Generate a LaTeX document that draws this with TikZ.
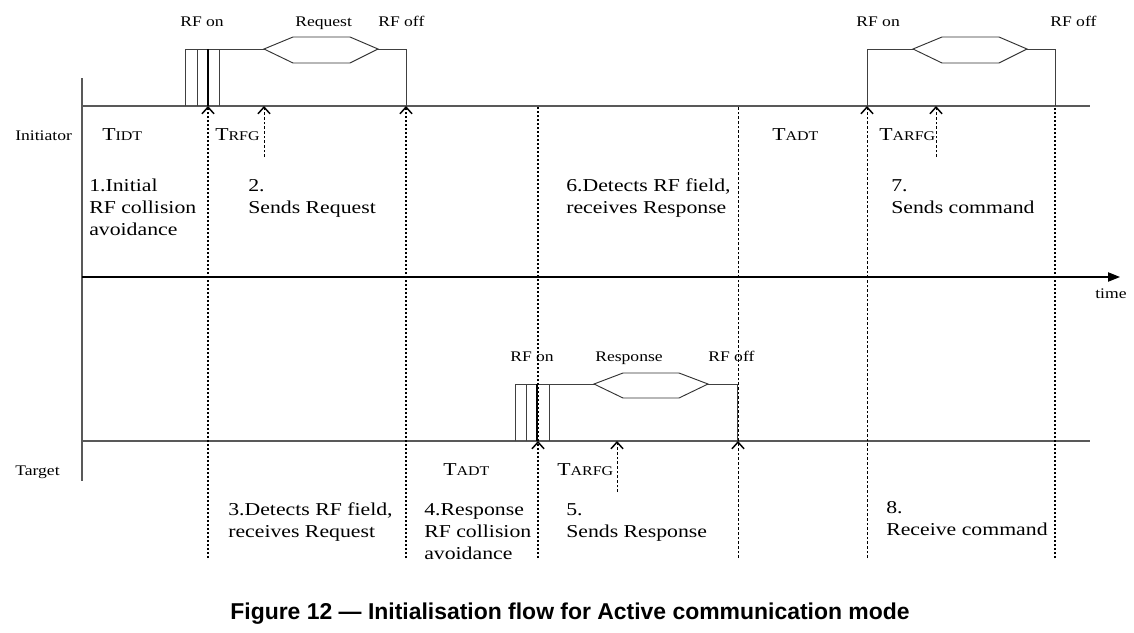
\documentclass[tikz,border=0pt]{standalone}
\usepackage{fontspec}
\setmainfont{Liberation Serif}
\newfontfamily\sr[FakeStretch=1.2]{Liberation Serif}
\newfontfamily\capfont{Liberation Sans}
\usetikzlibrary{arrows.meta}
\newcommand{\smalltxt}{\sr\fontsize{11}{13}\selectfont}
\newcommand{\bigtxt}{\sr\fontsize{13.6}{16.5}\selectfont}
\newcommand{\Tlab}[1]{{\sr\fontsize{13.6}{16}\selectfont T}{\sr\fontsize{10}{12}\selectfont #1}}
\tikzset{
  base/.style={draw=black!65, line width=0.9pt},
  sig/.style={draw=black!75, line width=0.7pt},
  sigthick/.style={draw=black, line width=1.2pt},
  hexa/.style={draw=black!80, line width=0.7pt, fill=white},
  tip/.style={-{Straight Barb[length=5pt,width=9pt,line width=1.1pt]}},
  thickdot/.style={line width=1.6pt, dash pattern=on 1.5pt off 1.5pt},
  thindot/.style={line width=0.75pt, dash pattern=on 2pt off 1.5pt},
  sl/.style={anchor=base west, inner sep=0pt, font=\smalltxt},
  bl/.style={anchor=base west, inner sep=0pt, align=left, font=\bigtxt},
}
\begin{document}
\begin{tikzpicture}[x=0.75pt,y=-0.75pt]
\useasboundingbox (0,0) rectangle (1134,632);
% axes and baselines
\coordinate (vtop) at (82,78);
\coordinate (vbot) at (82,481);
\coordinate (ib0) at (82,106);
\coordinate (ib1) at (1090,106);
\coordinate (tb0) at (82,441);
\coordinate (tb1) at (1090,441);
\coordinate (ta0) at (82,277);
\coordinate (ta1) at (1120,277);
\draw[base] (vtop) -- (vbot);
\draw[base] (ib0) -- (ib1);
\draw[base] (tb0) -- (tb1);
\draw[line width=0.9pt, -{Triangle[length=9pt,width=7pt]}] (ta0) -- (ta1);

% Initiator block 1
\draw[sig] (185,106) -- (185,49) -- (406,49) -- (406,106);
\draw[sig] (197,49) -- (197,106);
\draw[sig] (219,49) -- (219,106);
\draw[sigthick] (208,49) -- (208,106);
\draw[hexa] (264,49) -- (293,37) -- (350,37) -- (378,49) -- (350,63) -- (293,63) -- cycle;

% Initiator block 2
\draw[sig] (867,106) -- (867,49) -- (1055,49) -- (1055,106);
\draw[hexa] (913,49) -- (942,37) -- (999,37) -- (1027,49) -- (999,63) -- (942,63) -- cycle;

% Target block
\draw[sig] (515,441) -- (515,384) -- (737,384) -- (737,441);
\draw[sig] (526,384) -- (526,441);
\draw[sig] (549,384) -- (549,441);
\draw[sigthick] (537,384) -- (537,441);
\draw[hexa] (594,384) -- (623,373) -- (679,373) -- (708,384) -- (679,398) -- (623,398) -- cycle;

% dotted markers
\coordinate (a1) at (208,106); \coordinate (a1b) at (208,558);
\coordinate (a2) at (264,106); \coordinate (a2b) at (264,157);
\coordinate (a3) at (406,106); \coordinate (a3b) at (406,558);
\coordinate (a4t) at (538,106); \coordinate (a4) at (538,441); \coordinate (a4b) at (538,558);
\coordinate (a5) at (617,441); \coordinate (a5b) at (617,492);
\coordinate (a6t) at (738,106); \coordinate (a6) at (738,441); \coordinate (a6b) at (738,558);
\coordinate (a7) at (867,106); \coordinate (a7b) at (867,558);
\coordinate (a8) at (936,106); \coordinate (a8b) at (936,157);
\coordinate (a9t) at (1055,106); \coordinate (a9b) at (1055,558);

\draw[thickdot, tip] (a1b) -- (a1);
\draw[thindot, tip] (a2b) -- (a2);
\draw[thickdot, tip] (a3b) -- (a3);
\draw[thickdot] (a4) -- (a4t);
\draw[thickdot, tip] (a4b) -- (a4);
\draw[thindot, tip] (a5b) -- (a5);
\draw[thindot] (a6) -- (a6t);
\draw[thindot, tip] (a6b) -- (a6);
\draw[thindot, tip] (a7b) -- (a7);
\draw[thindot, tip] (a8b) -- (a8);
\draw[thickdot] (a9b) -- (a9t);

% small labels
\node[sl] (rfon1) at (180,26) {RF on};
\node[sl] (req) at (295,26) {Request};
\node[sl] (rfoff1) at (378,26) {RF off};
\node[sl] (rfon2) at (856,26) {RF on};
\node[sl] (rfoff2) at (1050,26) {RF off};
\node[sl] (rfon3) at (510,361) {RF on};
\node[sl] (resp) at (595,361) {Response};
\node[sl] (rfoff3) at (708,361) {RF off};
\node[sl] (init) at (15,140) {Initiator};
\node[sl] (targ) at (15,475) {Target};
\node[sl] (time) at (1095,298) {time};

% timing labels
\node[sl] (tidt) at (102,140) {\Tlab{IDT}};
\node[sl] (trfg) at (215,140) {\Tlab{RFG}};
\node[sl] (tadt1) at (772,140) {\Tlab{ADT}};
\node[sl] (tarfg1) at (879,140) {\Tlab{ARFG}};
\node[sl] (tadt2) at (443,475) {\Tlab{ADT}};
\node[sl] (tarfg2) at (557,475) {\Tlab{ARFG}};

% step descriptions (anchor on last line baseline)
\node[bl] (s1) at (89,235) {1.Initial\\RF collision\\avoidance};
\node[bl] (s2) at (248,213) {2.\\Sends Request};
\node[bl] (s6) at (566,213) {6.Detects RF field,\\receives Response};
\node[bl] (s7) at (891,213) {7.\\Sends command};
\node[bl] (s3) at (228,537) {3.Detects RF field,\\receives Request};
\node[bl] (s4) at (424,559) {4.Response\\RF collision\\avoidance};
\node[bl] (s5) at (566,537) {5.\\Sends Response};
\node[bl] (s8) at (886,535) {8.\\Receive command};

% caption
\node[inner sep=0pt, font=\capfont\bfseries\fontsize{17.2}{20}\selectfont] (cap) at (570,614) {Figure 12 — Initialisation flow for Active communication mode};
\end{tikzpicture}
\end{document}
